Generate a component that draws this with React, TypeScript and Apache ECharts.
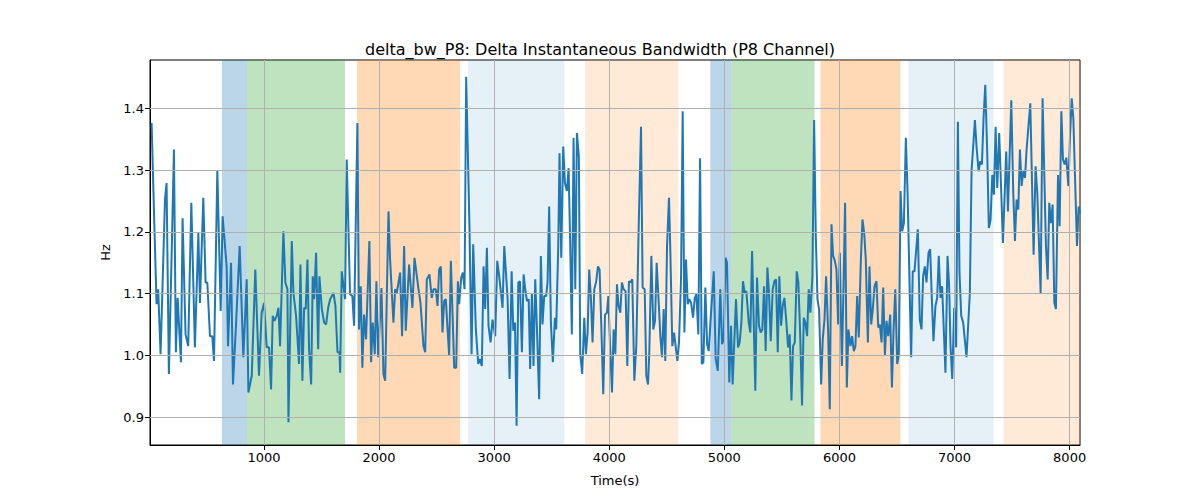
import { useRef, useEffect } from 'react';
import * as echarts from 'echarts';

const times = [
  24, 44, 67, 81, 102, 140, 154, 174, 197, 218, 235, 250, 279, 293, 319, 342, 369, 400, 430, 444, 473, 493, 508, 531, 551, 566, 595, 624, 641, 676, 688, 714, 731, 757, 789, 821, 850, 865, 894, 925, 957, 980, 1001, 1024, 1044, 1062, 1076, 1091, 1111, 1126, 1140, 1169, 1186, 1204, 1213, 1242, 1256, 1279, 1305, 1317, 1334, 1349, 1363, 1378, 1392, 1410, 1424, 1436, 1453, 1471, 1482, 1503, 1523, 1540, 1558, 1575, 1604, 1621, 1639, 1656,
  1662, 1676, 1705, 1719, 1748, 1768, 1783, 1812, 1826, 1841, 1855, 1870, 1887, 1916, 1931, 1945, 1963, 1977, 1992, 2021, 2038, 2053, 2082, 2096, 2125, 2140, 2154, 2183, 2200, 2218, 2232, 2261, 2290, 2308, 2343, 2360, 2386, 2401, 2415, 2438, 2458, 2473, 2493, 2508, 2522, 2537, 2551, 2566, 2580, 2609, 2624, 2653, 2670, 2685, 2696, 2714, 2728, 2743, 2757, 2786, 2804, 2818, 2841, 2862, 2876, 2893, 2908, 2922, 2937, 2951, 2969, 2986, 3009, 3027, 3044, 3073, 3088, 3117, 3134, 3152, 3166, 3181, 3195, 3210, 3224, 3241, 3256, 3270, 3285, 3300,
  3313, 3328, 3342, 3357, 3371, 3391, 3406, 3420, 3435, 3452, 3464, 3478, 3493, 3510, 3528, 3539, 3557, 3568, 3583, 3600, 3615, 3632, 3647, 3661, 3675, 3690, 3705, 3719, 3736, 3748, 3765, 3783, 3797, 3812, 3826, 3841, 3855, 3870, 3887, 3902, 3916, 3931, 3948, 3963, 3980, 3992, 4006, 4024, 4038, 4053, 4067, 4081, 4096, 4110, 4125, 4142, 4157, 4171, 4183, 4200, 4218, 4235, 4256, 4276, 4290, 4308, 4322, 4337, 4348, 4366, 4383, 4398, 4412, 4430, 4444, 4458, 4473, 4487, 4502, 4519, 4531, 4548, 4563, 4592, 4606, 4624, 4638, 4653, 4667, 4682, 4696, 4711, 4728, 4743, 4757, 4774, 4789, 4804, 4818, 4835, 4850, 4864, 4879, 4908, 4925, 4943,
  4965, 4980, 4994, 5011, 5023, 5043, 5058, 5072, 5101, 5119, 5133, 5148, 5162, 5177, 5191, 5212, 5226, 5241, 5269, 5284, 5301, 5316, 5330, 5345, 5359, 5374, 5388, 5403, 5420, 5435, 5449, 5464, 5478, 5493, 5507, 5522, 5539, 5554, 5568, 5583, 5597, 5612, 5629, 5643, 5658, 5675, 5690, 5704, 5719, 5733, 5748, 5765, 5780, 5794, 5809, 5823, 5841, 5855, 5870, 5884, 5902, 5916, 5931, 5945, 5960, 5974, 5989, 6003, 6021, 6035, 6049, 6064, 6078, 6096, 6110, 6125, 6139, 6154, 6168, 6186, 6200, 6215, 6229, 6247, 6261, 6276, 6290, 6305, 6322, 6337, 6351, 6366, 6380, 6395, 6409, 6424, 6441, 6456, 6470, 6485, 6502, 6516, 6531, 6545, 6560, 6577, 6592,
  6623, 6637, 6652, 6681, 6698, 6713, 6727, 6742, 6756, 6774, 6788, 6803, 6817, 6834, 6849, 6863, 6878, 6892, 6907, 6921, 6939, 6953, 6965, 6980, 6997, 7014, 7029, 7043, 7058, 7075, 7104, 7133, 7148, 7162, 7177, 7191, 7209, 7223, 7238, 7252, 7267, 7284, 7298, 7313, 7328, 7342, 7357, 7371, 7388, 7406, 7420, 7449, 7464, 7493, 7510, 7525, 7539, 7554, 7568, 7583, 7597, 7612, 7626, 7658, 7687, 7704, 7719, 7748, 7765, 7794, 7809, 7823, 7838, 7852, 7867, 7881, 7899, 7913, 7928, 7942, 7957, 7971, 7989, 8003, 8018, 8032, 8064, 8078, 8090,
];

const bandwidth = [
  1.376, 1.236, 1.083, 1.107, 1.002, 1.252, 1.279, 0.970, 1.155, 1.333, 1.005, 1.093, 0.989, 1.222, 1.034, 1.015, 1.247, 1.013, 1.198, 1.085, 1.255, 1.118, 1.118, 1.031, 1.031, 0.991, 1.300, 1.072, 1.225, 1.144, 1.015, 1.150, 0.953, 1.048, 1.177, 0.997, 1.123, 0.940, 0.967, 1.139, 0.967, 1.069, 1.085, 1.013, 1.013, 0.945, 1.064, 1.056, 1.064, 1.077, 1.015, 1.201, 1.118, 1.107, 0.892, 1.185, 1.101, 1.064, 0.986, 1.147, 0.959, 1.077, 1.075, 1.155, 1.010, 0.953, 1.128, 1.091, 1.166, 1.010, 1.128, 1.075, 1.053, 1.050, 1.077, 1.091, 1.101, 1.080, 1.005, 1.005,
  0.972, 1.136, 1.091, 1.317, 1.099, 1.096, 1.048, 1.376, 1.042, 1.112, 0.980, 1.066, 1.026, 1.185, 0.989, 1.053, 1.002, 1.120, 0.997, 1.109, 0.970, 0.959, 1.233, 1.155, 1.053, 1.107, 1.101, 1.134, 1.031, 1.177, 1.040, 1.147, 1.077, 1.158, 1.107, 1.085, 1.015, 1.005, 1.123, 1.131, 1.093, 1.107, 1.107, 1.080, 1.139, 1.144, 1.037, 1.088, 1.091, 1.000, 1.153, 0.980, 0.980, 1.120, 1.083, 1.126, 1.134, 1.107, 1.451, 1.204, 1.002, 1.180, 1.042, 0.986, 0.994, 0.983, 1.144, 1.075, 1.174, 1.048, 1.021, 1.058, 1.031, 1.153, 1.128, 1.077, 1.177, 1.091, 0.962, 1.136, 1.040, 1.053, 0.886, 1.118, 1.120, 1.005, 1.131, 1.107, 1.088, 1.091,
  0.978, 1.101, 0.983, 1.123, 1.048, 0.929, 1.161, 1.050, 1.096, 1.096, 1.118, 1.241, 1.053, 0.989, 1.061, 1.042, 1.177, 1.327, 1.158, 1.338, 1.279, 1.266, 1.303, 1.177, 1.034, 1.352, 1.107, 1.360, 1.322, 1.002, 0.970, 1.061, 1.002, 1.037, 1.139, 1.091, 1.021, 1.107, 1.120, 1.144, 1.139, 1.048, 0.937, 1.066, 1.069, 1.096, 1.021, 0.940, 1.042, 1.002, 1.115, 1.080, 1.069, 1.118, 1.107, 1.104, 0.983, 1.120, 1.118, 1.123, 0.959, 1.015, 1.209, 1.370, 1.110, 1.107, 0.967, 0.953, 1.005, 1.161, 1.042, 1.056, 1.150, 1.085, 1.031, 0.997, 1.075, 0.991, 1.177, 1.255, 1.166, 1.015, 1.037, 0.991, 1.021, 1.128, 1.395, 1.037, 1.155, 1.083, 1.091, 1.085, 1.061, 1.093, 1.099, 1.034, 1.319, 0.986, 0.989, 1.110, 1.018, 1.007, 1.053, 1.136, 0.994, 0.975,
  1.107, 1.018, 1.026, 1.158, 1.150, 0.956, 1.048, 0.953, 1.091, 1.013, 1.021, 1.053, 1.120, 1.101, 1.104, 1.053, 1.037, 1.169, 0.943, 1.126, 1.048, 1.037, 1.042, 1.112, 1.007, 1.142, 1.101, 1.023, 1.107, 1.120, 1.123, 1.005, 1.128, 1.048, 1.080, 1.093, 1.053, 1.013, 1.034, 0.927, 1.015, 1.021, 1.136, 1.118, 1.040, 0.919, 1.061, 1.053, 1.031, 1.107, 1.069, 1.128, 1.381, 1.198, 1.091, 1.075, 0.953, 1.026, 1.058, 1.128, 1.037, 0.913, 1.212, 1.161, 1.153, 1.139, 1.050, 1.166, 0.983, 1.107, 1.247, 0.948, 1.042, 1.015, 1.031, 1.007, 1.015, 1.096, 1.029, 1.155, 1.220, 1.198, 1.155, 1.021, 1.144, 1.050, 1.075, 1.112, 1.120, 1.045, 1.050, 1.021, 1.110, 1.000, 1.056, 1.031, 1.066, 0.948, 1.040, 1.107, 0.986, 1.002, 1.266, 1.201, 1.214, 1.352, 1.263,
  0.997, 1.136, 1.136, 1.204, 1.058, 1.042, 1.128, 1.144, 1.118, 1.166, 1.172, 1.091, 1.023, 1.080, 1.093, 1.161, 1.093, 1.112, 1.040, 0.972, 1.161, 1.112, 1.015, 0.962, 1.077, 1.013, 1.378, 1.134, 1.064, 1.053, 0.997, 1.101, 1.300, 1.338, 1.381, 1.338, 1.298, 1.314, 1.309, 1.384, 1.438, 1.327, 1.206, 1.220, 1.292, 1.260, 1.370, 1.271, 1.360, 1.263, 1.182, 1.330, 1.233, 1.413, 1.263, 1.185, 1.252, 1.236, 1.333, 1.274, 1.298, 1.287, 1.333, 1.408, 1.163, 1.306, 1.263, 1.101, 1.416, 1.177, 1.123, 1.247, 1.214, 1.244, 1.085, 1.075, 1.292, 1.209, 1.395, 1.317, 1.309, 1.320, 1.274, 1.354, 1.416, 1.384, 1.177, 1.241, 1.230,
];

// shaded segments: start, end, colour
const bandStarts = [635, 852, 1809, 2774, 3791, 4878, 5061, 5835, 6600, 7426];
const bandEnds = [852, 1704, 2704, 3609, 4600, 5061, 5783, 6530, 7339, 8096];
const bandColors = [
  'rgba(31,119,180,0.3)', 'rgba(44,160,44,0.3)', 'rgba(255,127,14,0.3)', 'rgba(31,119,180,0.11)', 'rgba(255,127,14,0.16)',
  'rgba(31,119,180,0.3)', 'rgba(44,160,44,0.3)', 'rgba(255,127,14,0.3)', 'rgba(31,119,180,0.11)', 'rgba(255,127,14,0.16)',
];

const xTicks = [1000, 2000, 3000, 4000, 5000, 6000, 7000, 8000];
const yTicks = [0.9, 1.0, 1.1, 1.2, 1.3, 1.4];

const App = () => {
  const chartRef = useRef<HTMLDivElement>(null);

  useEffect(() => {
    if (!chartRef.current) return;
    const chart = echarts.init(chartRef.current, null, { renderer: 'svg' });
    const grey = '#b0b0b0';
    const option: echarts.EChartsOption = {
      animation: false,
      textStyle: { fontFamily: 'DejaVu Sans' },
      title: {
        text: 'delta_bw_P8: Delta Instantaneous Bandwidth (P8 Channel)',
        left: 'center',
        top: 28,
        textStyle: { fontSize: 16, fontWeight: 'normal', color: '#000' },
      },
      grid: { left: 142, right: 112, top: 52, bottom: 47, show: true, borderColor: '#000', borderWidth: 1, backgroundColor: 'transparent' },
      xAxis: {
        type: 'value',
        min: 10,
        max: 8090,
        name: 'Time(s)',
        nameLocation: 'middle',
        nameGap: 29,
        nameTextStyle: { fontSize: 13, color: '#000' },
        axisLine: { show: true, lineStyle: { color: '#000' } },
        axisTick: { show: true, customValues: xTicks, length: 5, lineStyle: { color: '#000' } },
        axisLabel: { customValues: xTicks, fontSize: 13, color: '#000', margin: 6, formatter: (v: number) => String(v) },
        splitLine: { show: false },
      },
      yAxis: {
        type: 'value',
        min: 0.855,
        max: 1.478,
        name: 'Hz',
        nameLocation: 'middle',
        nameGap: 38,
        nameTextStyle: { fontSize: 13, color: '#000' },
        axisLine: { show: true, lineStyle: { color: '#000' } },
        axisTick: { show: true, customValues: yTicks, length: 5, lineStyle: { color: '#000' } },
        axisLabel: { customValues: yTicks, fontSize: 13, color: '#000', margin: 6, formatter: (v: number) => v.toFixed(1) },
        splitLine: { show: false },
      },
      series: [
        {
          type: 'line',
          data: times.map((t, i) => [t, bandwidth[i]]),
          showSymbol: false,
          lineStyle: { color: '#1f77b4', width: 2 },
          z: 3,
          markArea: {
            silent: true,
            data: bandStarts.map((s, i) => [
              { xAxis: s, itemStyle: { color: bandColors[i] } },
              { xAxis: bandEnds[i] },
            ]) as any,
          },
          markLine: {
            silent: true,
            symbol: 'none',
            label: { show: false },
            lineStyle: { color: grey, type: 'solid', width: 1 },
            data: [
              ...xTicks.map((v) => ({ xAxis: v })),
              ...yTicks.map((v) => ({ yAxis: v })),
            ],
          },
        },
      ],
    };
    chart.setOption(option);
    return () => chart.dispose();
  }, []);

  return <div ref={chartRef} style={{ width: 1184, height: 484 }} />;
};

export default App;
